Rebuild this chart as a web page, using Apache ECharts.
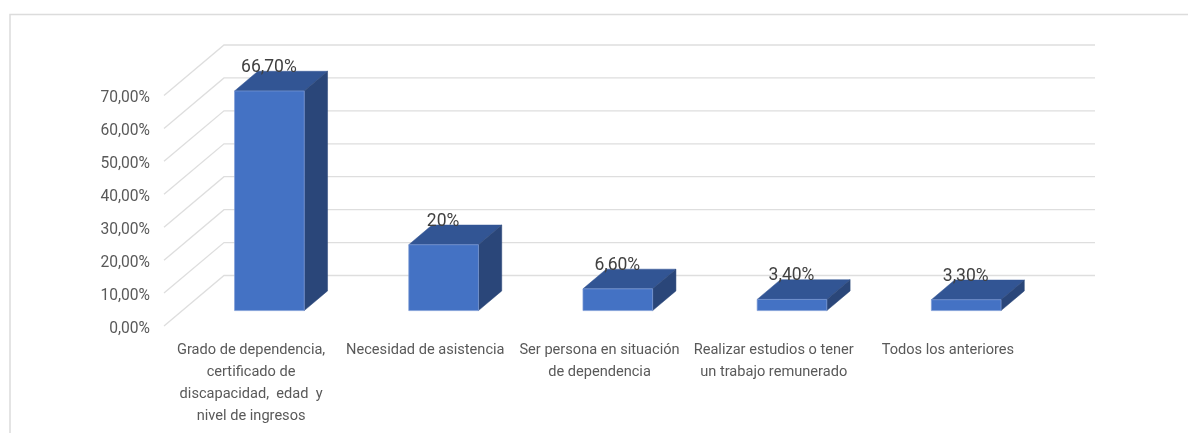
<!DOCTYPE html>
<html>
<head>
<meta charset="utf-8">
<style>html,body{margin:0;padding:0;background:#fff}#c{width:1188px;height:433px}</style>
<script src="https://cdn.jsdelivr.net/npm/echarts@6/dist/echarts.min.js"></script>
</head>
<body>
<div id="c"></div>
<script>
const categories = [
  "Grado de dependencia,\ncertificado de\ndiscapacidad,  edad  y\nnivel de ingresos",
  "Necesidad de asistencia",
  "Ser persona en situación\nde dependencia",
  "Realizar estudios o tener\nun trabajo remunerado",
  "Todos los anteriores"
];
const values = [66.7, 20, 6.6, 3.4, 3.3];
const valueLabels = ["66,70%", "20%", "6,60%", "3,40%", "3,30%"];
const yTicks = [0, 10, 20, 30, 40, 50, 60, 70];

const wallDX = 60, wallDY = 50.5;
const barDX = 23.3, barDY = 19.7, insetDX = 18.3, insetDY = 15.4;

const chart = echarts.init(document.getElementById('c'), null, {renderer: 'canvas'});
chart.setOption({
  animation: false,
  backgroundColor: '#fff',
  textStyle: {fontFamily: 'Roboto'},
  graphic: [{
    type: 'polyline',
    silent: true,
    shape: {points: [[10, 433], [10, 14.5], [1188, 14.5]]},
    style: {fill: null, stroke: '#dcdcdc', lineWidth: 1.5}
  }],
  grid: {left: 164, right: 153, top: 95.5, bottom: 107},
  xAxis: {
    type: 'category',
    data: categories,
    axisLine: {show: false},
    axisTick: {show: false},
    axisLabel: {interval: 0, margin: 13, color: '#595959', fontSize: 14.6, lineHeight: 22, fontFamily: 'Roboto'}
  },
  yAxis: {
    type: 'value',
    min: 0, max: 70, interval: 10,
    axisLine: {show: false},
    axisTick: {show: false},
    splitLine: {show: false},
    axisLabel: {
      margin: 14, color: '#595959', fontSize: 15.6, fontFamily: 'Roboto',
      verticalAlign: 'top', lineHeight: 6,
      formatter: v => v.toFixed(2).replace('.', ',') + '%'
    }
  },
  series: [{
    type: 'custom',
    name: 'walls',
    z: 1,
    silent: true,
    data: yTicks.map(v => [0, v]),
    encode: {x: 0, y: 1},
    renderItem(params, api) {
      const p = api.coord([0, api.value(1)]);
      const band = api.size([1, 0])[0];
      const x0 = p[0] - band / 2;
      const x1 = x0 + band * categories.length;
      return {
        type: 'polyline',
        shape: {points: [[x0, p[1]], [x0 + wallDX, p[1] - wallDY], [x1 + wallDX, p[1] - wallDY]]},
        style: {fill: null, stroke: '#dedede', lineWidth: 1.3}
      };
    }
  }, {
    type: 'custom',
    name: 'bars',
    z: 2,
    data: values.map((v, i) => [i, v]),
    encode: {x: 0, y: 1},
    renderItem(params, api) {
      const i = api.value(0), v = api.value(1);
      const top = api.coord([i, v]), base = api.coord([i, 0]);
      const w = api.size([1, 0])[0] * 0.4;
      const l = top[0] - w / 2 + insetDX, r = l + w;
      const t = top[1] - insetDY, b = base[1] - insetDY;
      return {
        type: 'group',
        children: [
          {type: 'polygon', shape: {points: [[l, t], [r, t], [r + barDX, t - barDY], [l + barDX, t - barDY]]},
           style: {fill: '#325594', stroke: '#325594', lineWidth: 0.5}},
          {type: 'polygon', shape: {points: [[r, t], [r + barDX, t - barDY], [r + barDX, b - barDY], [r, b]]},
           style: {fill: '#2a4679', stroke: '#2a4679', lineWidth: 0.5}},
          {type: 'rect', shape: {x: l, y: t, width: w, height: b - t},
           style: {fill: '#4472c4', stroke: '#7d9bd6', lineWidth: 0.7}},
          {type: 'text', z2: 10,
           style: {x: top[0] + insetDX - 0.5, y: t - 23.5, text: valueLabels[params.dataIndex],
                   fill: '#404040', fontSize: 17.5, fontFamily: 'Roboto', align: 'center', verticalAlign: 'middle'}}
        ]
      };
    }
  }]
});
</script>
</body>
</html>
